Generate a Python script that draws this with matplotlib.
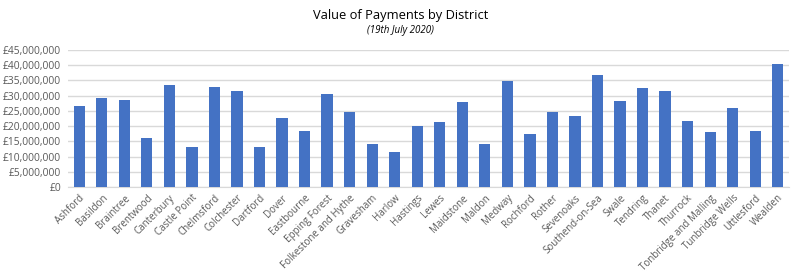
import matplotlib
matplotlib.use("Agg")
import matplotlib.pyplot as plt
from matplotlib.ticker import FuncFormatter, MultipleLocator

districts = ["Ashford", "Basildon", "Braintree", "Brentwood", "Canterbury", "Castle Point",
             "Chelmsford", "Colchester", "Dartford", "Dover", "Eastbourne", "Epping Forest",
             "Folkestone and Hythe", "Gravesham", "Harlow", "Hastings", "Lewes", "Maidstone",
             "Maldon", "Medway", "Rochford", "Rother", "Sevenoaks", "Southend-on-Sea", "Swale",
             "Tendring", "Thanet", "Thurrock", "Tonbridge and Malling", "Tunbridge Wells",
             "Uttlesford", "Wealden"]
payments = [26.6, 29.2, 28.6, 16.1, 33.5, 13.1, 32.9, 31.5, 13.1, 22.7, 18.4, 30.6,
            24.6, 14.1, 11.5, 20.0, 21.4, 27.9, 14.1, 34.8, 17.4, 24.6, 23.3, 36.8,
            28.3, 32.5, 31.5, 21.7, 18.1, 26.0, 18.4, 40.4]
payments = [v * 1e6 for v in payments]

plt.rcParams['font.family'] = ['Open Sans', 'DejaVu Sans']

fig = plt.figure(figsize=(8.01, 2.78), dpi=100)
ax = fig.add_axes([68 / 801, 1 - 187 / 278, (789 - 68) / 801, (187 - 50) / 278])

x = range(len(districts))
ax.bar(x, payments, width=0.5, color="#4472C4", zorder=3)

ax.set_xlim(-0.5, len(districts) - 0.5)
ax.set_ylim(0, 45e6)
ax.yaxis.set_major_locator(MultipleLocator(5e6))
ax.yaxis.set_major_formatter(FuncFormatter(lambda v, p: f"£{v:,.0f}"))
ax.grid(axis="y", color="#d9d9d9", linewidth=1, zorder=0)

for s in ["top", "right", "left"]:
    ax.spines[s].set_visible(False)
ax.spines["bottom"].set_color("#d9d9d9")

ax.set_xticks(list(x))
ax.set_xticklabels(districts, rotation=45, ha="right", rotation_mode="anchor")
ax.tick_params(axis="both", length=0, labelcolor="#595959")
ax.tick_params(axis="x", labelsize=7, pad=4)
ax.tick_params(axis="y", labelsize=7.4, pad=5)

fig.text(0.5, 1 - 15 / 278, "Value of Payments by District", ha="center", va="center",
         fontsize=9.3, color="#000000")
fig.text(0.5, 1 - 30 / 278, "(19th July 2020)", ha="center", va="center",
         fontsize=7, style="italic", color="#000000")

fig.savefig("out.png", dpi=100)
